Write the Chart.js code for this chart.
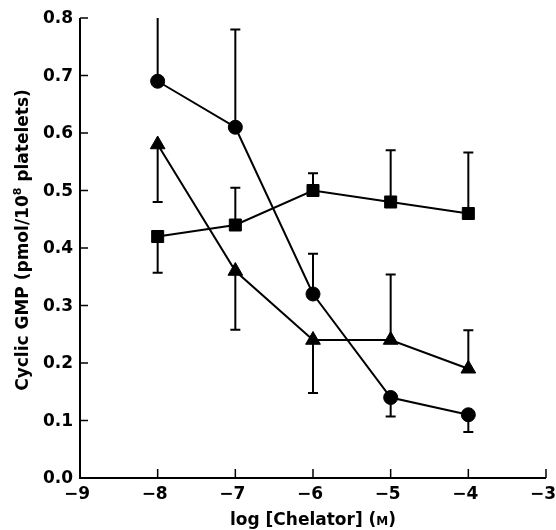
<!DOCTYPE html>
<html>
<head>
<meta charset="utf-8">
<script src="https://cdn.jsdelivr.net/npm/chart.js@4"></script>
<style>
  html, body { margin: 0; padding: 0; background: #fff; }
  #wrap { width: 556px; height: 530px; }
</style>
</head>
<body>
<div id="wrap"><canvas id="cgmpChart" width="556" height="530"></canvas></div>
<script>
// log [Chelator] (M)
const logConc = [-8, -7, -6, -5, -4];

// mean cyclic GMP, pmol/10^8 platelets
const circleMean = [0.69, 0.61, 0.32, 0.14, 0.11];
const squareMean = [0.42, 0.44, 0.50, 0.48, 0.46];
const triangleMean = [0.58, 0.36, 0.24, 0.24, 0.19];

// end of the one-sided error bar for each point
const circleErr = [0.81, 0.78, 0.39, 0.107, 0.08];
const squareErr = [0.357, 0.505, 0.53, 0.57, 0.566];
const triangleErr = [0.48, 0.258, 0.148, 0.354, 0.257];

const xTicks = [-9, -8, -7, -6, -5, -4, -3];
const yTicks = [0.0, 0.1, 0.2, 0.3, 0.4, 0.5, 0.6, 0.7, 0.8];

const xTitle = 'log [Chelator] (';
const yTitle = ['Cyclic GMP (pmol/10', '8', ' platelets)'];

const FONT = '"DejaVu Sans", "Liberation Sans", Arial, sans-serif';

function pts(ys) {
    return logConc.map((x, i) => ({ x: x, y: ys[i] }));
}

function series(name, ys, errs, style, radius) {
    return {
        label: name,
        data: pts(ys),
        errEnds: errs,
        borderColor: '#000',
        backgroundColor: '#000',
        borderWidth: 2,
        pointStyle: style,
        pointRadius: radius,
        pointBorderWidth: 1,
        pointBackgroundColor: '#000',
        pointBorderColor: '#000',
        tension: 0,
        fill: false
    };
}

const errorBars = {
    id: 'errorBars',
    beforeDatasetsDraw(chart) {
        const ctx = chart.ctx;
        const xs = chart.scales.x, ys = chart.scales.y;
        const area = chart.chartArea;
        ctx.save();
        ctx.beginPath();
        ctx.rect(area.left - 10, area.top, area.right - area.left + 20, area.bottom - area.top);
        ctx.clip();
        ctx.strokeStyle = '#000';
        ctx.lineWidth = 2;
        chart.data.datasets.forEach(ds => {
            ds.data.forEach((p, i) => {
                const px = xs.getPixelForValue(p.x);
                const py = ys.getPixelForValue(p.y);
                const ey = ys.getPixelForValue(ds.errEnds[i]);
                ctx.beginPath();
                ctx.moveTo(px, py);
                ctx.lineTo(px, ey);
                ctx.moveTo(px - 5, ey);
                ctx.lineTo(px + 5, ey);
                ctx.stroke();
            });
        });
        ctx.restore();
    }
};

const axesDecor = {
    id: 'axesDecor',
    afterDraw(chart) {
        const ctx = chart.ctx;
        const xs = chart.scales.x, ys = chart.scales.y;
        const a = chart.chartArea;
        ctx.save();
        ctx.strokeStyle = '#000';
        ctx.fillStyle = '#000';
        ctx.lineWidth = 2;
        ctx.beginPath();
        ctx.moveTo(a.left, a.top);
        ctx.lineTo(a.left, a.bottom);
        ctx.lineTo(a.right, a.bottom);
        ctx.stroke();

        ctx.lineWidth = 1.5;
        ctx.font = 'bold 17px ' + FONT;
        ctx.textAlign = 'center';
        ctx.textBaseline = 'middle';
        xTicks.forEach(v => {
            const px = xs.getPixelForValue(v);
            ctx.beginPath();
            ctx.moveTo(px, a.bottom);
            ctx.lineTo(px, a.bottom - 9);
            ctx.stroke();
            ctx.fillText('\u2212' + Math.abs(v), px - 3, a.bottom + 17);
        });
        ctx.textAlign = 'right';
        yTicks.forEach(v => {
            const py = ys.getPixelForValue(v);
            ctx.beginPath();
            ctx.moveTo(a.left, py);
            ctx.lineTo(a.left + 8, py);
            ctx.stroke();
            ctx.fillText(v.toFixed(1), a.left - 7, py + 1);
        });

        // x title with small-cap M
        const big = 'bold 17px ' + FONT;
        const small = 'bold 12px ' + FONT;
        ctx.font = big;
        const w1 = ctx.measureText(xTitle).width;
        ctx.font = small;
        const w2 = ctx.measureText('M').width;
        ctx.font = big;
        const w3 = ctx.measureText(')').width;
        let tx = (a.left + a.right) / 2 - (w1 + w2 + w3) / 2;
        const ty = 525;
        ctx.textAlign = 'left';
        ctx.textBaseline = 'alphabetic';
        ctx.fillText(xTitle, tx, ty);
        ctx.font = small;
        ctx.fillText('M', tx + w1, ty);
        ctx.font = big;
        ctx.fillText(')', tx + w1 + w2, ty);

        // y title with superscript 8
        ctx.translate(28, 240);
        ctx.rotate(-Math.PI / 2);
        const s1 = ctx.measureText(yTitle[0]).width;
        ctx.font = 'bold 11px ' + FONT;
        const s2 = ctx.measureText(yTitle[1]).width;
        ctx.font = big;
        const s3 = ctx.measureText(yTitle[2]).width;
        let sx = -(s1 + s2 + s3) / 2;
        ctx.fillText(yTitle[0], sx, 0);
        ctx.font = 'bold 11px ' + FONT;
        ctx.fillText(yTitle[1], sx + s1, -7);
        ctx.font = big;
        ctx.fillText(yTitle[2], sx + s1 + s2, 0);
        ctx.restore();
    }
};

new Chart(document.getElementById('cgmpChart').getContext('2d'), {
    type: 'line',
    data: {
        datasets: [
            series('Circles', circleMean, circleErr, 'circle', 7),
            series('Squares', squareMean, squareErr, 'rect', 8.5),
            series('Triangles', triangleMean, triangleErr, 'triangle', 8.5)
        ]
    },
    options: {
        responsive: false,
        animation: false,
        layout: { padding: { left: 80, right: 10, top: 18, bottom: 52 } },
        plugins: {
            legend: { display: false },
            tooltip: { enabled: false }
        },
        scales: {
            x: { type: 'linear', min: -9, max: -3, display: false },
            y: { type: 'linear', min: 0, max: 0.8, display: false }
        }
    },
    plugins: [errorBars, axesDecor]
});
</script>
</body>
</html>
